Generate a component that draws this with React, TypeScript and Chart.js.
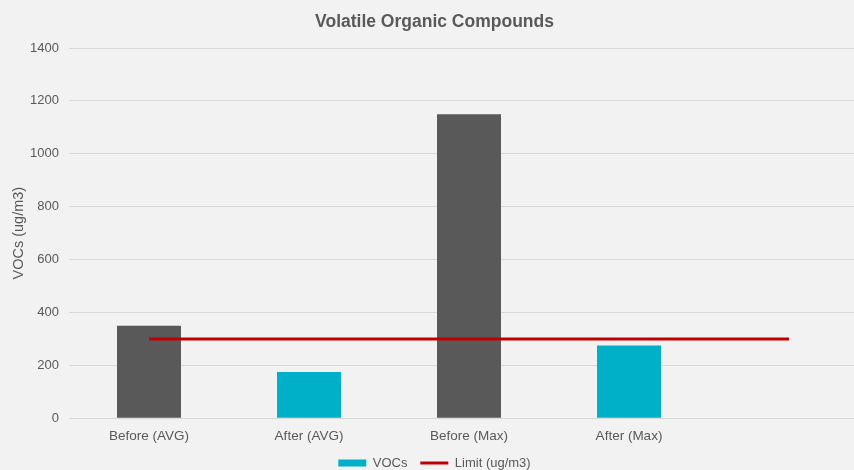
import React, { useEffect, useRef } from "react";
import { Chart, registerables } from "chart.js";

Chart.register(...registerables);

const categories = ["Before (AVG)", "After (AVG)", "Before (Max)", "After (Max)", ""];
const vocValues = [350, 175, 1150, 275, null];
const limitValues = [300, 300, 300, 300, 300];
const barColors = ["#595959", "#00B0C8", "#595959", "#00B0C8", "#00B0C8"];
const yTicks = { min: 0, max: 1400, step: 200 };

const TEXT = "#595959";
const FONT = "'Liberation Sans', Arial, sans-serif";

export default function App() {
  const ref = useRef<HTMLCanvasElement | null>(null);

  useEffect(() => {
    if (!ref.current) return;
    const chart = new Chart(ref.current, {
      type: "bar",
      data: {
        labels: categories,
        datasets: [
          {
            type: "bar",
            label: "VOCs",
            data: vocValues as any,
            backgroundColor: barColors,
            barPercentage: 0.4,
            categoryPercentage: 1,
            order: 1,
          },
          {
            type: "line",
            label: "Limit (ug/m3)",
            data: limitValues,
            borderColor: "#C00000",
            backgroundColor: "#C00000",
            borderWidth: 3,
            pointRadius: 0,
            fill: false,
            order: 0,
          } as any,
        ],
      },
      options: {
        responsive: false,
        animation: false,
        layout: { padding: { left: 0, right: 3, top: 0, bottom: -9.5 } },
        plugins: {
          title: {
            display: true,
            text: "Volatile Organic Compounds",
            color: TEXT,
            font: { family: FONT, size: 17.5, weight: "bold" },
            padding: { top: 12, bottom: 15 },
          },
          legend: {
            position: "bottom",
            labels: {
              color: TEXT,
              font: { family: FONT, size: 13 },
              usePointStyle: true,
              pointStyleWidth: 28,
              boxHeight: 7,
              padding: 2,
              generateLabels: () => [
                {
                  text: "VOCs   ",
                  fillStyle: "#00B0C8",
                  strokeStyle: "#00B0C8",
                  lineWidth: 0,
                  pointStyle: "rect",
                  fontColor: TEXT,
                  datasetIndex: 0,
                  hidden: false,
                } as any,
                {
                  text: "Limit (ug/m3)",
                  fillStyle: "#C00000",
                  strokeStyle: "#C00000",
                  lineWidth: 3,
                  pointStyle: "line",
                  fontColor: TEXT,
                  datasetIndex: 1,
                  hidden: false,
                } as any,
              ],
            },
          },
          tooltip: { enabled: false },
        },
        scales: {
          x: {
            grid: { display: false, drawTicks: false },
            border: { display: true, color: "#D9D9D9", width: 1 },
            ticks: {
              color: TEXT,
              font: { family: FONT, size: 13.5 },
              padding: 10,
              maxRotation: 0,
              autoSkip: false,
            },
          },
          y: {
            min: yTicks.min,
            max: yTicks.max,
            afterFit: (s: any) => {
              s.width = 69;
            },
            grid: { color: "#D9D9D9", drawTicks: false },
            border: { display: false },
            ticks: {
              stepSize: yTicks.step,
              color: TEXT,
              font: { family: FONT, size: 13 },
              padding: 10,
              callback: (v: any) => String(v),
            },
            title: {
              display: true,
              text: "VOCs (ug/m3)",
              color: TEXT,
              font: { family: FONT, size: 14.5 },
              padding: { top: 10, bottom: 0 },
            },
          },
        },
      },
    });
    return () => chart.destroy();
  }, []);

  return (
    <div
      style={{
        position: "fixed",
        left: 0,
        top: 0,
        width: 854,
        height: 470,
        overflow: "hidden",
        background: "#F2F2F2",
      }}
    >
      <canvas ref={ref} width={872} height={470} style={{ display: "block" }} />
    </div>
  );
}
